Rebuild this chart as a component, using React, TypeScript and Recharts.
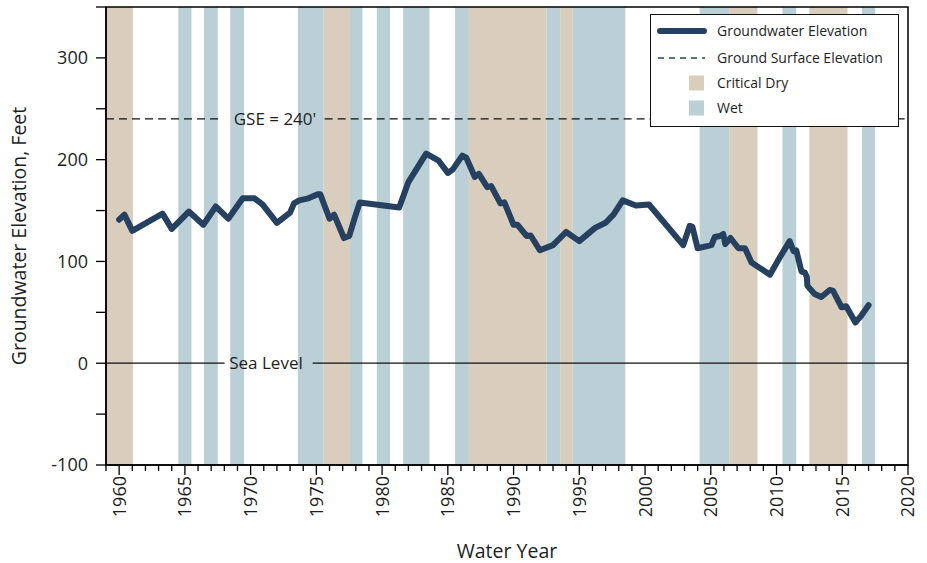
import React from 'react';
import { LineChart, Line, XAxis, YAxis, ReferenceArea, ReferenceLine } from 'recharts';

const FONT = '"Open Sans", "Noto Sans", sans-serif';
const LINE_COLOR = '#26405f';
const DRY_COLOR = '#d9cdbd';
const WET_COLOR = '#bacfd6';
const TEXT_COLOR = '#1e1e1e';

// Groundwater elevation series (water year, feet)
const waterYears = [
  1960.0, 1960.4, 1961.0, 1963.3, 1964.0, 1965.3, 1966.4, 1967.35, 1968.3, 1969.4,
  1970.3, 1970.9, 1972.0, 1973.0, 1973.3, 1973.7, 1974.4, 1975.1, 1975.3, 1976.0,
  1976.35, 1977.1, 1977.5, 1977.9, 1978.3, 1981.3, 1982.0, 1983.35, 1984.3, 1985.0,
  1985.35, 1986.1, 1986.4, 1987.05, 1987.36, 1988.0, 1988.3, 1989.0, 1989.3, 1990.0,
  1990.3, 1991.0, 1991.3, 1992.0, 1993.0, 1994.0, 1995.0, 1996.2, 1997.0, 1997.6,
  1998.3, 1999.3, 2000.3, 2002.9, 2003.4, 2003.6, 2004.0, 2005.05, 2005.3, 2005.7,
  2005.95, 2006.1, 2006.5, 2007.1, 2007.6, 2008.1, 2009.5, 2010.3, 2011.0, 2011.3,
  2011.5, 2011.9, 2012.15, 2012.3, 2012.35, 2012.9, 2013.4, 2014.05, 2014.3, 2014.95,
  2015.3, 2016.0, 2016.4, 2017.0,
];
const gwElevation = [
  141, 146, 130, 147, 132, 149, 136, 154, 142, 162,
  162, 156, 138, 148, 157, 160, 162, 166, 166, 142,
  146, 123, 125, 142, 158, 153, 178, 206, 199, 187,
  190, 204, 202, 183, 186, 173, 174, 157, 158, 136,
  136, 125, 125.5, 111, 116, 129, 120, 133, 138, 146,
  160, 155, 156, 116, 135, 134, 113, 116, 124, 125,
  127, 117, 123, 113, 113, 99, 87, 105, 120, 110,
  111, 90, 89, 85, 76, 68, 65, 72, 71, 55,
  56, 40, 46, 57,
];

const groundSurfaceElevation = 240;
const seaLevel = 0;
// Where the annotation text interrupts each reference line (water years)
const gseGap = [1967.87, 1975.63];
const seaGap = [1968.02, 1974.72];

// Water-year type bands
const criticalDryStart = [1959.0, 1975.55, 1986.6, 1993.55, 2006.4, 2012.5];
const criticalDryEnd = [1961.05, 1977.55, 1992.5, 1994.5, 2008.55, 2015.4];
const wetStart = [1964.5, 1966.45, 1968.45, 1973.6, 1977.55, 1979.6, 1981.6, 1985.55, 1992.5, 1994.5, 2004.15, 2010.45, 2016.5];
const wetEnd = [1965.5, 1967.5, 1969.5, 1975.55, 1978.5, 1980.6, 1983.6, 1986.6, 1993.55, 1998.5, 2006.4, 2011.5, 2017.5];

const X_MIN = 1959;
const X_MAX = 2020;
const xMajorTicks = [1960, 1965, 1970, 1975, 1980, 1985, 1990, 1995, 2000, 2005, 2010, 2015, 2020];
const xTicks = Array.from({ length: 62 }, (_, i) => 1959 + i);
const yTicks = [-100, -50, 0, 50, 100, 150, 200, 250, 300, 350];
const yLabeledTicks = [-100, 0, 100, 200, 300];

const data = waterYears.map((yr, i) => ({ year: yr, elev: gwElevation[i] }));

const XTick = (props: any) => {
  const { x, y, payload } = props;
  const major = xMajorTicks.includes(payload.value);
  return (
    <g>
      <line x1={x} x2={x} y1={y} y2={y + (major ? 10 : 6)} stroke="#000" strokeWidth={1.3} />
      {major && (
        <text
          x={x}
          y={y + 11}
          transform={`rotate(-90 ${x} ${y + 11})`}
          textAnchor="end"
          dy="0.36em"
          fontFamily={FONT}
          fontSize={18}
          fill={TEXT_COLOR}
        >
          {payload.value}
        </text>
      )}
    </g>
  );
};

const YTick = (props: any) => {
  const { x, y, payload } = props;
  const labeled = yLabeledTicks.includes(payload.value);
  return (
    <g>
      <line x1={x - 10} x2={x} y1={y} y2={y} stroke="#000" strokeWidth={1.3} />
      {labeled && (
        <text x={x - 18} y={y} textAnchor="end" dy="0.36em" fontFamily={FONT} fontSize={18} fill={TEXT_COLOR}>
          {payload.value}
        </text>
      )}
    </g>
  );
};

const makeLineLabel = (text: string, center: number) => (props: any) => {
  const vb = props.viewBox || {};
  const cx = vb.x + center;
  const cy = vb.y;
  return (
    <text x={cx} y={cy} textAnchor="middle" dy="0.36em" fontFamily={FONT} fontSize={17} fill={TEXT_COLOR}>
      {text}
    </text>
  );
};

const YLabel = (props: any) => {
  const vb = props.viewBox || {};
  const x = vb.x + 19;
  const y = vb.y + vb.height / 2;
  return (
    <text x={x} y={y} transform={`rotate(-90 ${x} ${y})`} textAnchor="middle" dy="0.36em" fontFamily={FONT} fontSize={19.5} fill={TEXT_COLOR}>
      Groundwater Elevation, Feet
    </text>
  );
};

const XLabel = (props: any) => {
  const vb = props.viewBox || {};
  const x = vb.x + vb.width / 2;
  const y = vb.y + 86;
  return (
    <text x={x} y={y} textAnchor="middle" dy="0.36em" fontFamily={FONT} fontSize={19.5} fill={TEXT_COLOR}>
      Water Year
    </text>
  );
};

const legendItems = [
  { label: 'Groundwater Elevation', kind: 'line' },
  { label: 'Ground Surface Elevation', kind: 'dash' },
  { label: 'Critical Dry', kind: 'dry' },
  { label: 'Wet', kind: 'wet' },
];
const legendRowCenters = [16, 43, 68, 93];

const LegendBox = () => (
  <div
    style={{
      position: 'absolute',
      left: 650,
      top: 14,
      width: 249,
      height: 113,
      border: '1.5px solid #111',
      background: '#fff',
      boxSizing: 'border-box',
      fontFamily: FONT,
      fontSize: 14,
      color: TEXT_COLOR,
    }}
  >
    {legendItems.map((it, i) => (
      <div key={it.label} style={{ position: 'absolute', left: 0, top: legendRowCenters[i] - 11, height: 22, width: '100%' }}>
        <svg width={60} height={22} style={{ position: 'absolute', left: 0, top: 0 }}>
          {it.kind === 'line' && <line x1={9} x2={53} y1={11} y2={11} stroke={LINE_COLOR} strokeWidth={6} strokeLinecap="round" />}
          {it.kind === 'dash' && <line x1={7} x2={54} y1={11} y2={11} stroke={LINE_COLOR} strokeWidth={1.4} strokeDasharray="6 5" />}
          {it.kind === 'dry' && <rect x={38} y={3.5} width={15} height={15} fill={DRY_COLOR} />}
          {it.kind === 'wet' && <rect x={38} y={3.5} width={15} height={15} fill={WET_COLOR} />}
        </svg>
        <span style={{ position: 'absolute', left: 66, top: 0, lineHeight: '22px', whiteSpace: 'nowrap' }}>{it.label}</span>
      </div>
    ))}
  </div>
);

export default function App() {
  return (
    <div style={{ position: 'absolute', left: 0, top: 0, width: 927, height: 563, background: '#fff' }}>
      <LineChart width={927} height={563} data={data} margin={{ top: 7, right: 19, bottom: 0, left: 0 }}>
        <XAxis
          dataKey="year"
          type="number"
          domain={[X_MIN, X_MAX]}
          ticks={xTicks}
          interval={0}
          allowDataOverflow
          height={98}
          tickSize={0}
          tickMargin={0}
          tickLine={false}
          axisLine={{ stroke: '#000', strokeWidth: 1.5 }}
          tick={<XTick />}
          label={XLabel}
        />
        <YAxis
          type="number"
          domain={[-100, 350]}
          ticks={yTicks}
          interval={0}
          allowDataOverflow
          width={106}
          tickSize={0}
          tickMargin={0}
          tickLine={false}
          axisLine={{ stroke: '#000', strokeWidth: 1.5 }}
          tick={<YTick />}
          label={YLabel}
        />
        {criticalDryStart.map((s, i) => (
          <ReferenceArea key={`d${i}`} x1={s} x2={criticalDryEnd[i]} fill={DRY_COLOR} fillOpacity={1} stroke="none" ifOverflow="hidden" />
        ))}
        {wetStart.map((s, i) => (
          <ReferenceArea key={`w${i}`} x1={s} x2={wetEnd[i]} fill={WET_COLOR} fillOpacity={1} stroke="none" ifOverflow="hidden" />
        ))}
        <ReferenceLine
          segment={[{ x: X_MIN, y: groundSurfaceElevation }, { x: gseGap[0], y: groundSurfaceElevation }]}
          stroke="#111"
          strokeWidth={1.2}
          strokeDasharray="8 5"
        />
        <ReferenceLine
          segment={[{ x: gseGap[1], y: groundSurfaceElevation }, { x: X_MAX, y: groundSurfaceElevation }]}
          stroke="#111"
          strokeWidth={1.2}
          strokeDasharray="8 5"
        />
        <ReferenceLine y={groundSurfaceElevation} stroke="none" label={makeLineLabel("GSE = 240'", 169)} />
        <ReferenceLine
          segment={[{ x: X_MIN, y: seaLevel }, { x: seaGap[0], y: seaLevel }]}
          stroke="#111"
          strokeWidth={1.2}
        />
        <ReferenceLine
          segment={[{ x: seaGap[1], y: seaLevel }, { x: X_MAX, y: seaLevel }]}
          stroke="#111"
          strokeWidth={1.2}
        />
        <ReferenceLine y={seaLevel} stroke="none" label={makeLineLabel('Sea Level', 160)} />
        <ReferenceArea x1={X_MIN} x2={X_MAX} y1={-100} y2={350} fill="none" stroke="#000" strokeWidth={1.5} />
        <Line
          type="linear"
          dataKey="elev"
          stroke={LINE_COLOR}
          strokeWidth={6}
          strokeLinejoin="round"
          strokeLinecap="round"
          dot={false}
          isAnimationActive={false}
        />
      </LineChart>
      <LegendBox />
    </div>
  );
}
